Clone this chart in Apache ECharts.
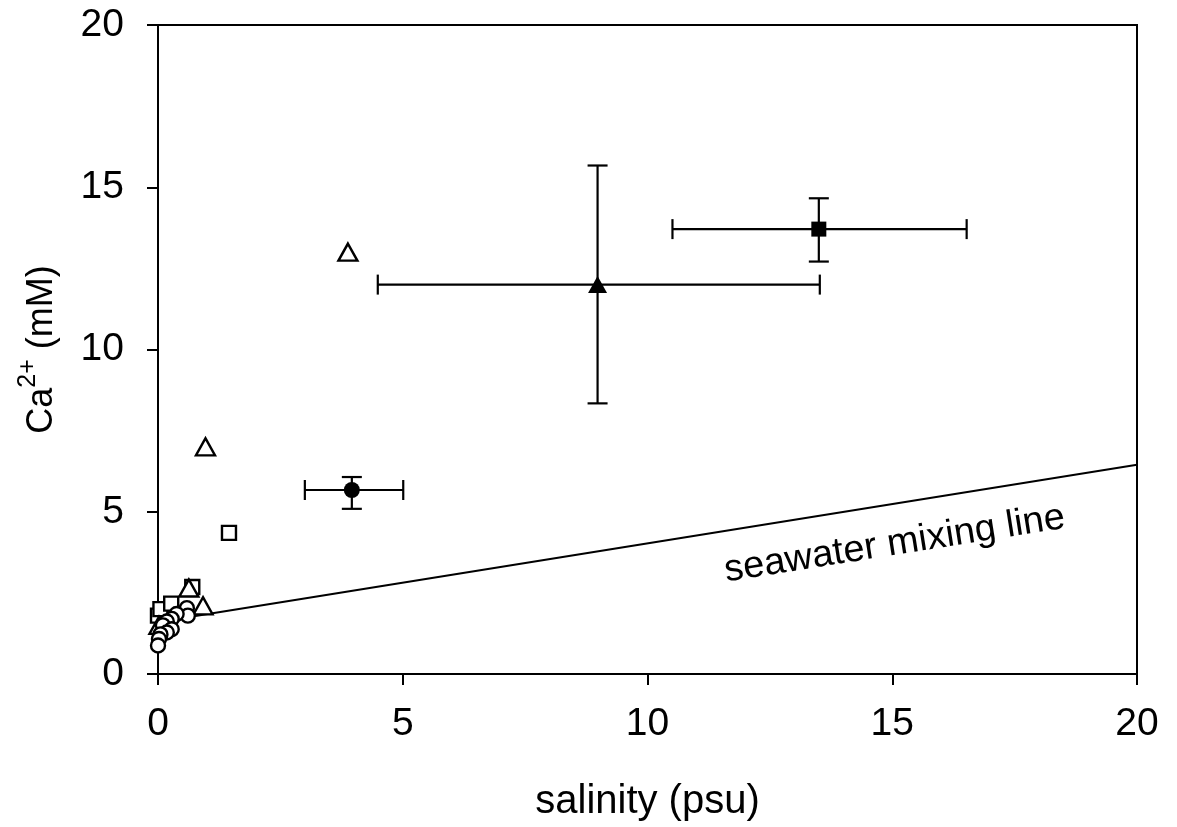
<!DOCTYPE html>
<html>
<head>
<meta charset="utf-8">
<script src="https://cdn.jsdelivr.net/npm/echarts@6/dist/echarts.min.js"></script>
<style>html,body{margin:0;padding:0;background:#fff;}#c{width:1177px;height:827px;}</style>
</head>
<body>
<div id="c"></div>
<script>
// ---- data ----
var xTicks = [0, 5, 10, 15, 20];
var yTicks = [0, 5, 10, 15, 20];
var openSquares = [[0.0,1.8],[0.05,2.0],[0.27,2.17],[0.7,2.68],[1.45,4.35]];
var openTriangles = [[3.88,13.0],[0.97,7.0],[0.92,2.1],[0.63,2.65],[0.02,1.5]];
var openCircles = [[0.59,2.03],[0.61,1.8],[0.38,1.85],[0.28,1.7],[0.18,1.62],[0.1,1.5],[0.28,1.38],[0.18,1.28],[0.05,1.22],[0.02,1.08],[0.0,0.88]];
// filled means with error ranges: [x, y, xLow, xHigh, yLow, yHigh]
var meanCircle = [3.96, 5.67, 3.0, 5.01, 5.09, 6.07];
var meanTriangle = [8.98, 12.0, 4.49, 13.52, 8.34, 15.67];
var meanSquare = [13.5, 13.71, 10.51, 16.52, 12.71, 14.66];
var mixingLine = [[0, 1.6], [20, 6.45]];
var mixingLabel = [15.05, 4.0, 'seawater mixing line'];

var FONT = 'Liberation Sans, Arial, Helvetica, sans-serif';
var chart = echarts.init(document.getElementById('c'));

function errRender(params, api) {
  var x = api.value(0), y = api.value(1);
  var xl = api.coord([api.value(2), y]), xh = api.coord([api.value(3), y]);
  var yl = api.coord([x, api.value(4)]), yh = api.coord([x, api.value(5)]);
  var c = 10;
  var st = {stroke: '#000', lineWidth: 2.2};
  return {type: 'group', children: [
    {type: 'line', shape: {x1: xl[0], y1: xl[1], x2: xh[0], y2: xh[1]}, style: st},
    {type: 'line', shape: {x1: xl[0], y1: xl[1]-c, x2: xl[0], y2: xl[1]+c}, style: st},
    {type: 'line', shape: {x1: xh[0], y1: xh[1]-c, x2: xh[0], y2: xh[1]+c}, style: st},
    {type: 'line', shape: {x1: yl[0], y1: yl[1], x2: yh[0], y2: yh[1]}, style: st},
    {type: 'line', shape: {x1: yl[0]-c, y1: yl[1], x2: yl[0]+c, y2: yl[1]}, style: st},
    {type: 'line', shape: {x1: yh[0]-c, y1: yh[1], x2: yh[0]+c, y2: yh[1]}, style: st}
  ]};
}

var openStyle = {color: '#fff', borderColor: '#000', borderWidth: 2.4, opacity: 1};
var solidStyle = {color: '#000', opacity: 1};

chart.setOption({
  animation: false,
  backgroundColor: '#fff',
  grid: {left: 158, right: 40, top: 25, bottom: 150, show: true, borderColor: '#000', borderWidth: 2, backgroundColor: 'transparent'},
  xAxis: {
    type: 'value', min: 0, max: 20, interval: 5,
    name: 'salinity (psu)', nameLocation: 'middle', nameGap: 108,
    nameTextStyle: {fontFamily: FONT, fontSize: 40, color: '#000'},
    axisLine: {show: true, onZero: false, lineStyle: {color: '#000', width: 2}},
    axisTick: {show: true, inside: false, length: 11, lineStyle: {color: '#000', width: 2}},
    axisLabel: {fontFamily: FONT, fontSize: 39, color: '#000', margin: 31,
      formatter: function (v) { return xTicks.indexOf(v) >= 0 ? String(v) : ''; }},
    splitLine: {show: false}
  },
  yAxis: {
    type: 'value', min: 0, max: 20, interval: 5,
    name: '{a|Ca}{s|2+}{a| (mM)}', nameLocation: 'middle', nameGap: 98, nameRotate: 90,
    nameTextStyle: {fontFamily: FONT, color: '#000',
      rich: {a: {fontFamily: FONT, fontSize: 36, color: '#000', lineHeight: 44, verticalAlign: 'bottom'},
             s: {fontFamily: FONT, fontSize: 25, color: '#000', lineHeight: 44, verticalAlign: 'top'}}},
    axisLine: {show: true, onZero: false, lineStyle: {color: '#000', width: 2}},
    axisTick: {show: true, inside: false, length: 11, lineStyle: {color: '#000', width: 2}},
    axisLabel: {fontFamily: FONT, fontSize: 39, color: '#000', margin: 34,
      formatter: function (v) { return yTicks.indexOf(v) >= 0 ? String(v) : ''; }},
    splitLine: {show: false}
  },
  series: [
    {type: 'line', data: mixingLine, symbol: 'none', lineStyle: {color: '#000', width: 2}, z: 1, silent: true},
    {type: 'scatter', data: [mixingLabel], symbolSize: 0, z: 1, itemStyle: {opacity: 1},
      label: {show: true, formatter: function (p) { return p.value[2]; }, position: 'inside', rotate: 9,
        fontFamily: FONT, fontSize: 38, color: '#000', opacity: 1}},
    {type: 'custom', renderItem: errRender, data: [meanCircle, meanTriangle, meanSquare], z: 2,
      encode: {x: [0, 2, 3], y: [1, 4, 5]}},
    {type: 'scatter', data: openSquares, symbol: 'rect', symbolSize: 14, itemStyle: openStyle, z: 3},
    {type: 'scatter', data: openTriangles, symbol: 'triangle', symbolSize: [19, 17], itemStyle: openStyle, z: 4},
    {type: 'scatter', data: openCircles, symbol: 'circle', symbolSize: 14, itemStyle: openStyle, z: 5},
    {type: 'scatter', data: [meanCircle.slice(0, 2)], symbol: 'circle', symbolSize: 16, itemStyle: solidStyle, z: 6},
    {type: 'scatter', data: [meanTriangle.slice(0, 2)], symbol: 'triangle', symbolSize: [19, 17], itemStyle: solidStyle, z: 6},
    {type: 'scatter', data: [meanSquare.slice(0, 2)], symbol: 'rect', symbolSize: 15, itemStyle: solidStyle, z: 6}
  ]
});
</script>
</body>
</html>
